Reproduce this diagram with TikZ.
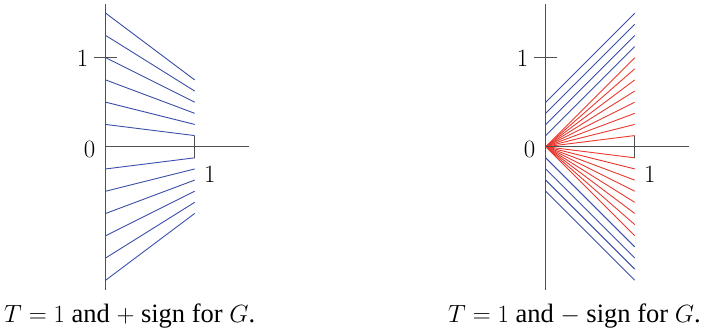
\documentclass[tikz,border=0pt]{standalone}
\usepackage[no-math]{fontspec}
\setmainfont{Liberation Serif}
\definecolor{lineblue}{RGB}{58,78,170}
\definecolor{linered}{RGB}{232,57,46}
\definecolor{axisgray}{RGB}{80,80,80}
\begin{document}
\begin{tikzpicture}[x=1pt,y=1pt,
  axisline/.style={draw=axisgray,line width=1.3pt},
  blueline/.style={lineblue,line width=0.9pt},
  redline/.style={linered,line width=0.9pt},
  edgeline/.style={draw=axisgray,line width=0.9pt},
  lab/.style={font=\fontsize{23.5}{28}\selectfont, inner sep=0pt},
  captext/.style={font=\fontsize{26.5}{31}\selectfont, inner sep=0pt, anchor=base west}]
\useasboundingbox (0,0) rectangle (709,333);
% left panel
\begin{scope}[shift={(105.7,186.3)},x=89pt,y=89pt]
  \foreach \a in {0.25,0.5,0.75,1,1.25,1.5} {
    \draw[blueline] (0,\a) -- (1,\a/2);
    \draw[blueline] (0,-\a) -- (1,-\a/2);
  }
  \draw[edgeline] (1,0.125) -- (1,-0.125);
  \draw[axisline] (0,-1.61) -- (0,1.6);
  \draw[axisline] (0,0) -- (1.61,0);
  \draw[axisline] (-0.13,1) -- (0.13,1);
  \node[lab] (Ly1) at (-0.26,0.99) {$1$};
  \node[lab] (Ly0) at (-0.18,-0.03) {$0$};
  \node[lab] (Lx1) at (1.17,-0.31) {$1$};
\end{scope}
% right panel
\begin{scope}[shift={(545.7,186.3)},x=89pt,y=89pt]
  \foreach \c in {0.125,0.25,0.375,0.5} {
    \draw[blueline] (0,\c) -- (1,1+\c);
    \draw[blueline] (0,-\c) -- (1,-1-\c);
  }
  \foreach \k in {1,...,8} {
    \draw[redline] (0,0) -- (1,\k*0.125);
    \draw[redline] (0,0) -- (1,-\k*0.125);
  }
  \draw[edgeline] (1,0.125) -- (1,-0.125);
  \draw[axisline] (0,-1.61) -- (0,1.6);
  \draw[axisline] (0,0) -- (1.61,0);
  \draw[axisline] (-0.13,1) -- (0.13,1);
  \node[lab] (Ry1) at (-0.26,0.99) {$1$};
  \node[lab] (Ry0) at (-0.18,-0.03) {$0$};
  \node[lab] (Rx1) at (1.17,-0.31) {$1$};
\end{scope}
\node[captext] (capL) at (4,11) {$T=1$ and $+$ sign for $G$.};
\node[captext] (capR) at (448,11) {$T=1$ and $-$ sign for $G$.};
\end{tikzpicture}
\end{document}
